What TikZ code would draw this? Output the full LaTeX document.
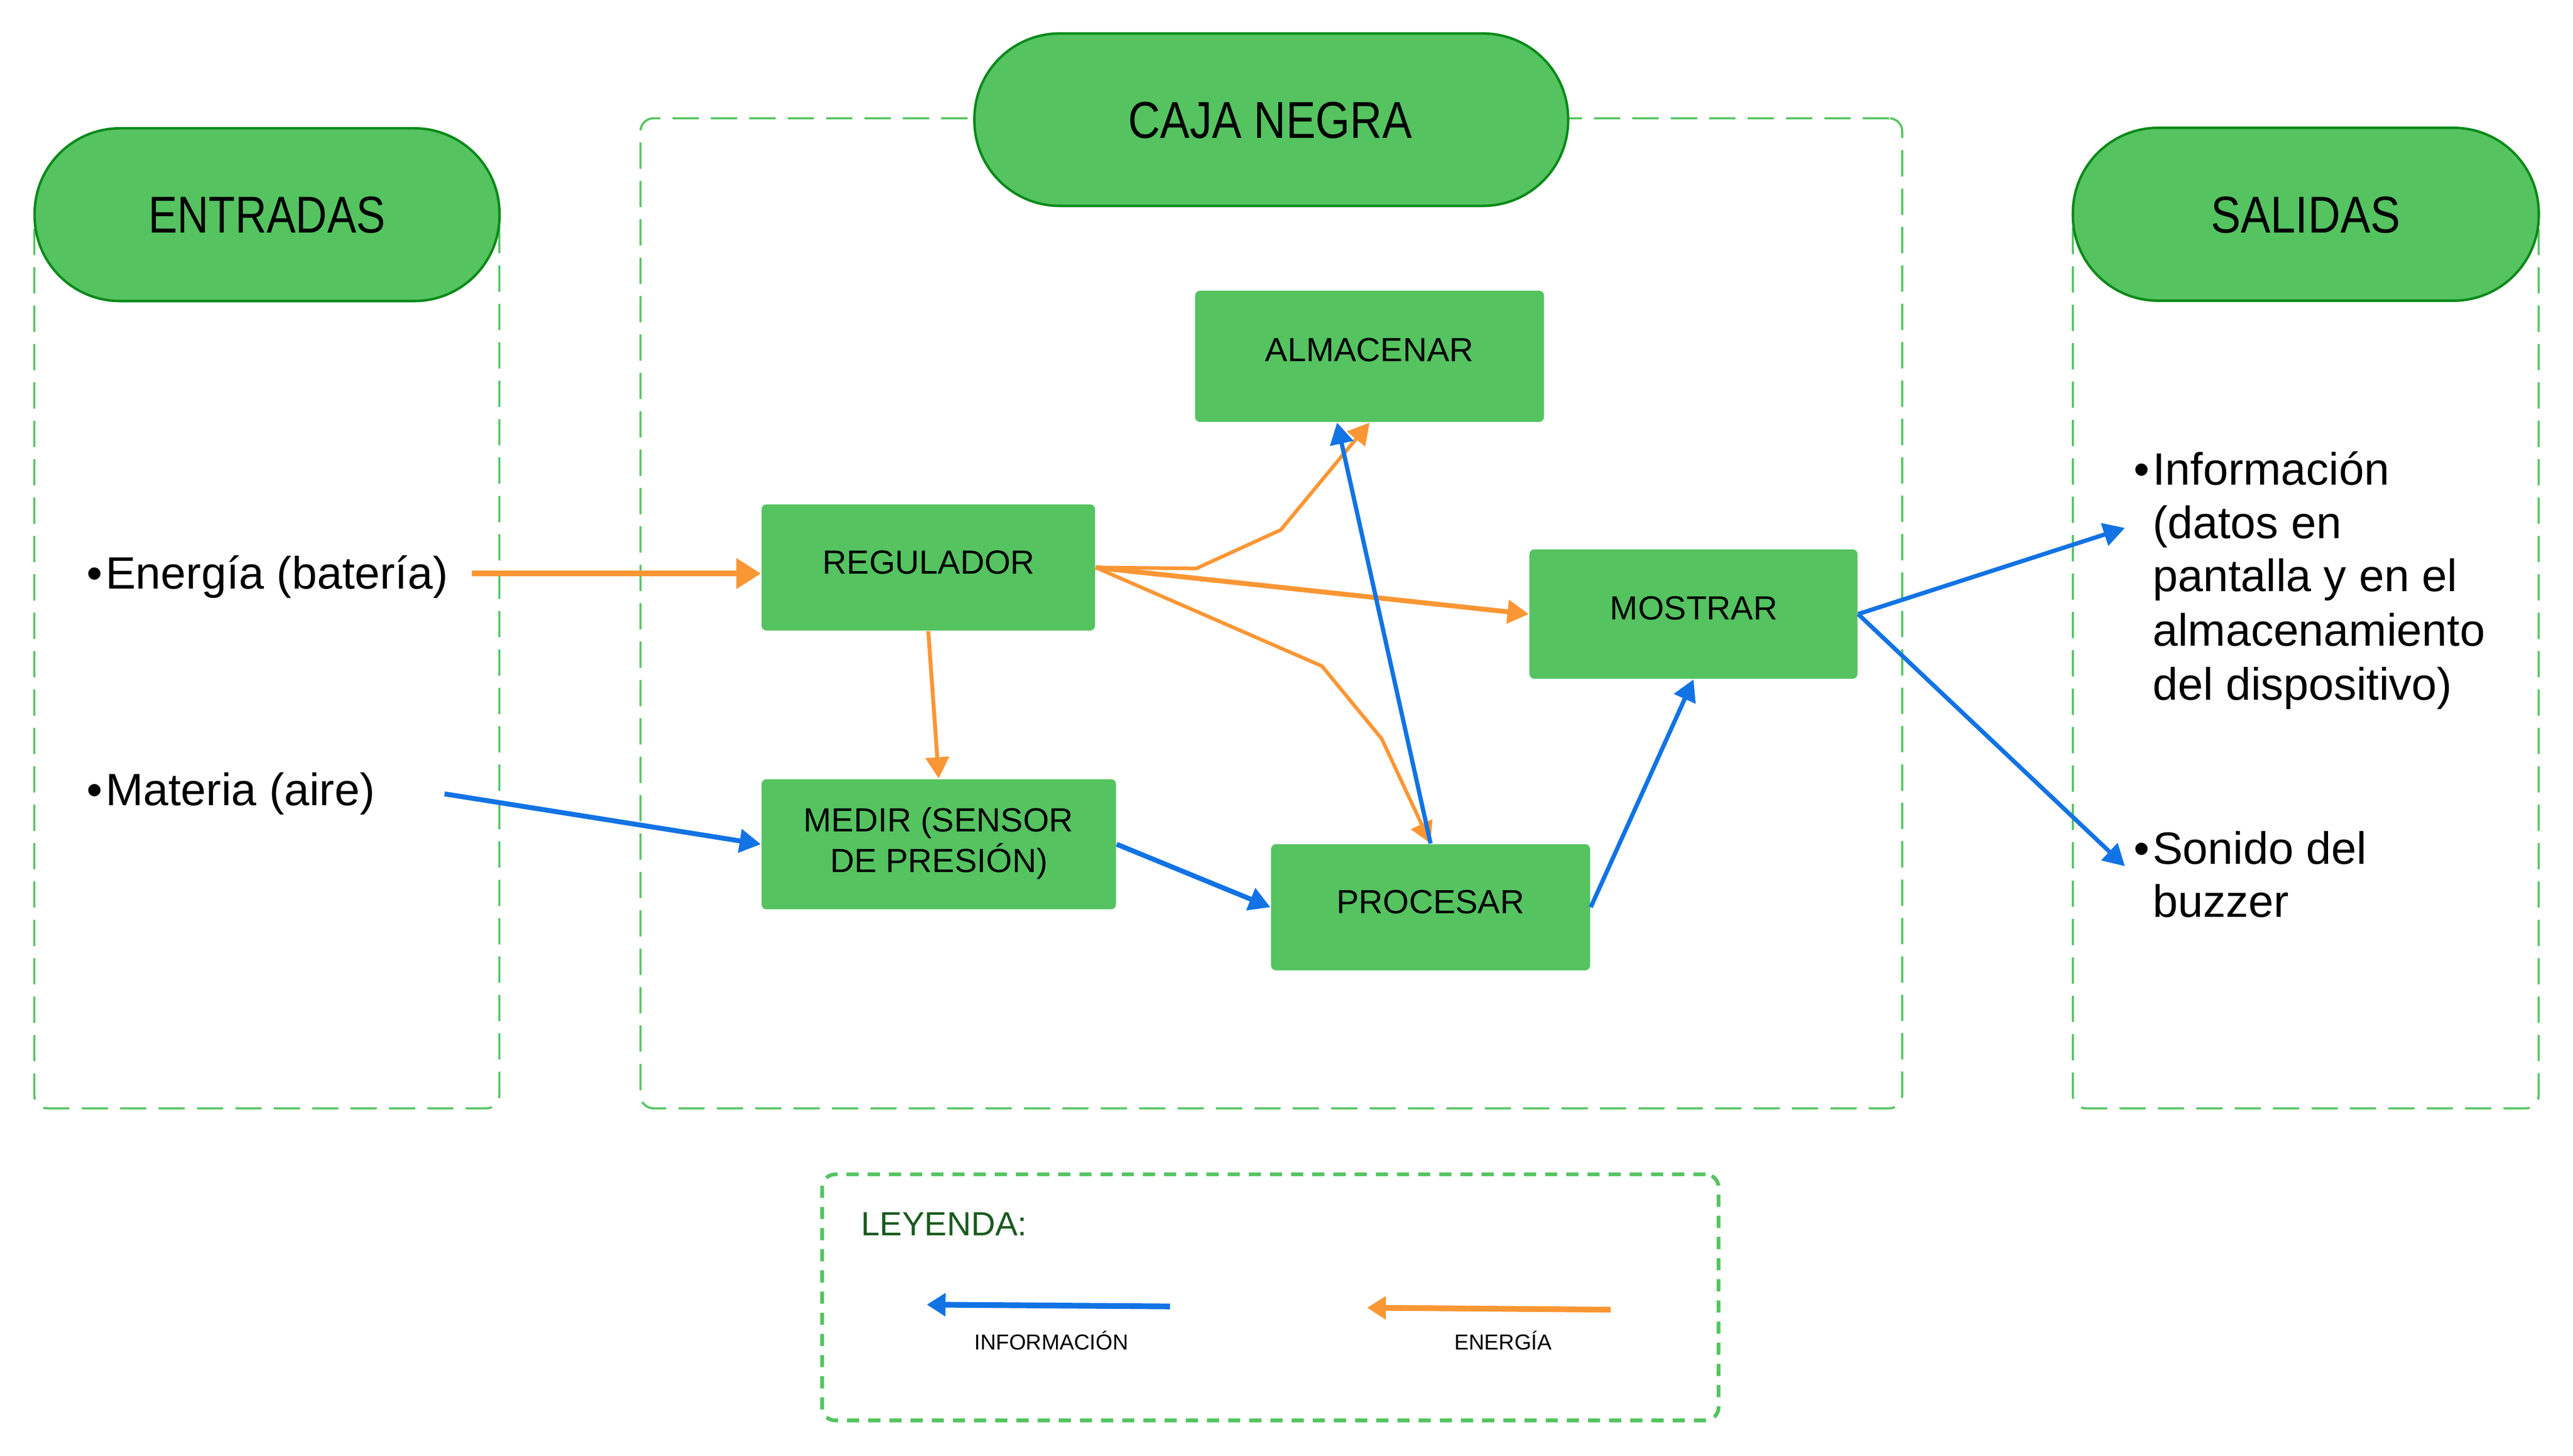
\documentclass[tikz,border=0pt]{standalone}
\usepackage{fontspec}
\setmainfont{Liberation Sans}
\usepackage{graphicx}
\usetikzlibrary{arrows.meta}
\definecolor{boxgreen}{RGB}{84,195,96}
\definecolor{pillborder}{RGB}{10,138,25}
\definecolor{dashgreen}{RGB}{84,196,96}
\definecolor{orng}{RGB}{251,150,52}
\definecolor{blu}{RGB}{18,115,228}
\definecolor{leggreen}{RGB}{25,90,30}
\begin{document}
\begin{tikzpicture}[x=0.5pt,y=-0.5pt,
  dbox/.style={draw=dashgreen, line width=0.65pt, dash pattern=on 8pt off 3.7pt, rounded corners=4pt, inner sep=0pt, fill=none},
  lbox/.style={draw=dashgreen, line width=1.15pt, dash pattern=on 3.7pt off 2.75pt, rounded corners=4pt, inner sep=0pt},
  pill/.style={draw=pillborder, fill=boxgreen, line width=0.75pt, rounded corners=26pt, inner sep=0pt},
  gbox/.style={fill=boxgreen, draw=none, rounded corners=1.5pt, inner sep=0pt},
  btxt/.style={font=\fontsize{10.2pt}{12pt}\selectfont, inner sep=0pt, anchor=base},
  ttxt/.style={font=\fontsize{15.8pt}{18pt}\selectfont, inner sep=0pt, anchor=base},
  ltxt/.style={font=\fontsize{13.8pt}{16.4pt}\selectfont, inner sep=0pt, anchor=base west},
  smtxt/.style={font=\fontsize{6.6pt}{8pt}\selectfont, inner sep=0pt, anchor=base},
  arr/.style={-{Triangle[length=6.5pt,width=7pt]}, line join=miter},
  oarr/.style={arr, draw=orng, line width=1.3pt},
  barr/.style={arr, draw=blu, line width=1.3pt}]
\useasboundingbox (0,0) rectangle (1568,887.2);

% dashed frames
\node[dbox, minimum width=141.7pt, minimum height=272.5pt] (entbox) at (162.6,403.1) {};
\node[dbox, minimum width=384.45pt, minimum height=301.75pt] (cajabox) at (774.75,373.85) {};
\node[dbox, minimum width=141.95pt, minimum height=272.5pt] (salbox) at (1405.15,403.1) {};
\node[lbox, minimum width=273.15pt, minimum height=75pt] (leg) at (774.15,790.8) {};

% title pills
\node[pill, minimum width=141.65pt, minimum height=52.65pt] (entpill) at (162.75,130.85) {};
\node[pill, minimum width=180.9pt, minimum height=52.55pt] (cajapill) at (774.7,72.95) {};
\node[pill, minimum width=141.95pt, minimum height=52.7pt] (salpill) at (1405.15,130.6) {};
\node[ttxt] (ent-t) at (162.6,141.9) {\scalebox{0.84}[1]{ENTRADAS}};
\node[ttxt] (caja-t) at (774,84.3) {\scalebox{0.856}[1]{CAJA NEGRA}};
\node[ttxt] (sal-t) at (1405,142) {\scalebox{0.864}[1]{SALIDAS}};

% process boxes
\node[gbox, minimum width=106.3pt, minimum height=40pt] (alm) at (834.6,217.2) {};
\node[gbox, minimum width=101.6pt, minimum height=38.45pt] (reg) at (565.7,345.9) {};
\node[gbox, minimum width=99.95pt, minimum height=39.45pt] (mos) at (1032,374.3) {};
\node[gbox, minimum width=108pt, minimum height=39.65pt] (med) at (572.1,514.6) {};
\node[gbox, minimum width=97.2pt, minimum height=38.45pt] (proc) at (871.8,553) {};

% connector helper coordinates
\coordinate (e1) at (287.6,349.6);
\coordinate (m1) at (270.9,483.9);
\coordinate (o3a) at (729,346.5);
\coordinate (o3b) at (780.5,323);
\coordinate (o5a) at (805.6,406);
\coordinate (o5b) at (842,450.3);
\coordinate (inf) at (1294.9,321.8);
\coordinate (son) at (1294.9,528);

% energy connectors
\draw[oarr, line width=1.7pt, -{Triangle[length=7.5pt,width=9pt]}] (e1) -- (e1 -| reg.west);
\draw[oarr, line width=1.2pt] (reg.south) -- (med.north);
\draw[oarr, line width=1.1pt] (reg.east) -- (o3a) -- (o3b) -- (alm.south);
\draw[oarr, line width=1.5pt] (reg.east) -- (mos.west);
\draw[oarr, line width=1.1pt] (reg.east) -- (o5a) -- (o5b) -- (proc.north);

% information connectors
\draw[barr, line width=1.5pt] (m1) -- (med.west);
\draw[barr, line width=1.5pt] (med.east) -- (proc.west);
\draw[barr] (proc.north) -- ([xshift=-9.9pt]alm.south);
\draw[barr] (proc.east) -- (mos.south);
\draw[barr] (mos.east) -- (inf);
\draw[barr] (mos.east) -- (son);

% box texts
\node[btxt] (alm-t) at (834.5,220.3) {ALMACENAR};
\node[btxt] (reg-t) at (566,349.7) {REGULADOR};
\node[btxt] (mos-t) at (1032.2,377.8) {MOSTRAR};
\node[btxt] (med-t1) at (571.9,506.8) {MEDIR (SENSOR};
\node[btxt] (med-t2) at (572.2,531.6) {DE PRESIÓN)};
\node[btxt] (proc-t) at (871.7,556.9) {PROCESAR};

% inputs
\node[ltxt] (energia) at (52.3,359) {•\hspace{1pt}Energía (batería)};
\node[ltxt] (materia) at (52.3,490.8) {•\hspace{1pt}Materia (aire)};

% outputs
\node[ltxt] (info1) at (1299.8,295.6) {•\hspace{1pt}Información};
\node[ltxt] (info2) at (1299.8,328.1) {\hphantom{•}\hspace{1pt}(datos en};
\node[ltxt] (info3) at (1299.8,360.6) {\hphantom{•}\hspace{1pt}pantalla y en el};
\node[ltxt] (info4) at (1299.8,393.6) {\hphantom{•}\hspace{1pt}almacenamiento};
\node[ltxt] (info5) at (1299.8,426.8) {\hphantom{•}\hspace{1pt}del dispositivo)};
\node[ltxt] (son1) at (1299.8,526.8) {•\hspace{1pt}Sonido del};
\node[ltxt] (son2) at (1299.8,559.1) {\hphantom{•}\hspace{1pt}buzzer};

% legend
\node[btxt, anchor=base west, text=leggreen] (leyenda) at (524.5,753) {LEYENDA:};
\coordinate (lb1) at (713,796.3);
\coordinate (lb2) at (564.8,795.2);
\coordinate (lo1) at (981.6,798.3);
\coordinate (lo2) at (833.1,797.1);
\draw[barr, line width=1.75pt, -{Triangle[length=5.7pt,width=6.8pt]}] (lb1) -- (lb2);
\draw[oarr, line width=1.75pt, -{Triangle[length=5.7pt,width=6.8pt]}] (lo1) -- (lo2);
\node[smtxt] (leg-info) at (640.7,822.6) {INFORMACIÓN};
\node[smtxt] (leg-ener) at (916,822.6) {ENERGÍA};
\end{tikzpicture}
\end{document}
